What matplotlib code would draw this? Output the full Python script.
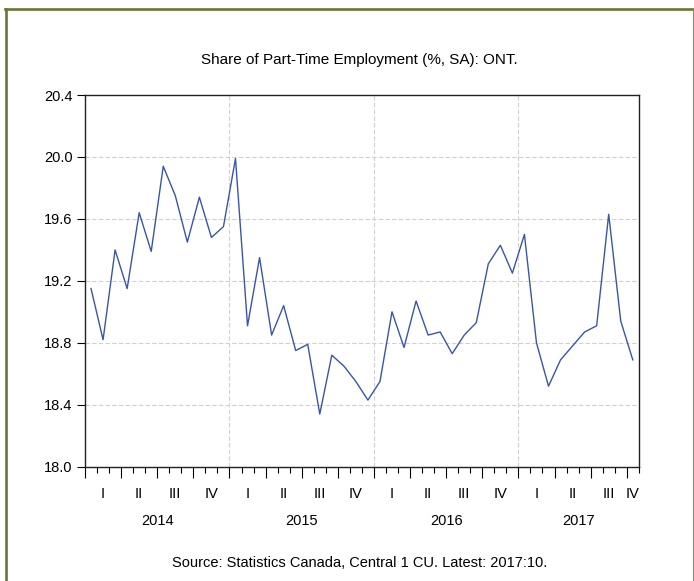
import numpy as np
import matplotlib
matplotlib.use("Agg")
import matplotlib.pyplot as plt
from matplotlib import font_manager
from matplotlib.lines import Line2D
from matplotlib.transforms import blended_transform_factory

# ---- data: monthly share of part-time employment, Ontario, 2014:01 - 2017:10
values = [19.15, 18.82, 19.40, 19.15, 19.64, 19.39, 19.94, 19.75, 19.45, 19.74, 19.48, 19.55,
          19.99, 18.91, 19.35, 18.85, 19.04, 18.75, 18.79, 18.34, 18.72, 18.65, 18.55, 18.43,
          18.55, 19.00, 18.77, 19.07, 18.85, 18.87, 18.73, 18.85, 18.93, 19.31, 19.43, 19.25,
          19.50, 18.80, 18.52, 18.69, 18.78, 18.87, 18.91, 19.63, 18.94, 18.69]
years = ["2014", "2015", "2016", "2017"]
quarters = ["I", "II", "III", "IV"]
yticks = [18.0, 18.4, 18.8, 19.2, 19.6, 20.0, 20.4]
title = "Share of Part-Time Employment (%, SA): ONT."
source = "Source: Statistics Canada, Central 1 CU. Latest: 2017:10."

names = {f.name for f in font_manager.fontManager.ttflist}
fam = "Liberation Sans Narrow" if "Liberation Sans Narrow" in names else "Liberation Sans"
plt.rcParams['font.family'] = [fam, 'DejaVu Sans']

fig = plt.figure(figsize=(6.94, 5.81), dpi=100)
ax = fig.add_axes([85/694, 1-466.7/581, (638.8-85)/694, (466.7-95)/581])

n = len(values)
x = np.arange(n) + 0.5
ax.plot(x, values, color="#3a55a8", lw=1.0)

ax.set_xlim(0, n)
ax.set_ylim(18.0, 20.4)
ax.set_yticks(yticks)
ax.set_yticklabels([f"{v:.1f}" for v in yticks], fontsize=10.5)
ax.tick_params(axis='y', direction='out', length=6, width=0.8, pad=3)

ax.set_xticks(np.arange(0, n + 1, 3))
ax.set_xticks(np.arange(0, n + 1, 1), minor=True)
ax.set_xticklabels([])
ax.tick_params(axis='x', which='major', direction='out', length=8, width=0.8)
ax.tick_params(axis='x', which='minor', direction='out', length=4, width=0.8)

for v in yticks[1:-1]:
    ax.axhline(v, color="#d0d0d0", lw=0.8, ls=(0, (4, 2)), zorder=0)
for b in (12, 24, 36):
    ax.axvline(b, color="#d0d0d0", lw=0.8, ls=(0, (4, 2)), zorder=0)

for s in ax.spines.values():
    s.set_linewidth(1.0)
    s.set_color("#222222")

tr = blended_transform_factory(ax.transData, fig.transFigure)
qy = 1 - 494/581
yy = 1 - 521/581
for yi, yr in enumerate(years):
    start = yi * 12
    end = min(start + 12, n)
    ax.text((start + end) / 2, yy, yr, transform=tr, ha='center', va='center', fontsize=10.5)
    for qi, q in enumerate(quarters):
        qs = start + qi * 3
        if qs >= n:
            break
        qe = min(qs + 3, n)
        ax.text((qs + qe) / 2, qy, q, transform=tr, ha='center', va='center', fontsize=10.5)

fig.text(0.518, 1 - 60/581, title, ha='center', va='center', fontsize=11)
fig.text(0.518, 1 - 563/581, source, ha='center', va='center', fontsize=10.5)

olive = "#6f7435"
fig.add_artist(Line2D([5.5/694, 5.5/694], [0, 1 - 9.2/581], transform=fig.transFigure,
                      color=olive, lw=1.9))
fig.add_artist(Line2D([4.6/694, 694/694], [1 - 9.2/581, 1 - 9.2/581], transform=fig.transFigure,
                      color=olive, lw=1.9))
fig.add_artist(Line2D([693.3/694, 693.3/694], [0, 1 - 9.2/581], transform=fig.transFigure,
                      color="#8a8d5a", lw=0.8))

fig.savefig("out.png", dpi=100)
